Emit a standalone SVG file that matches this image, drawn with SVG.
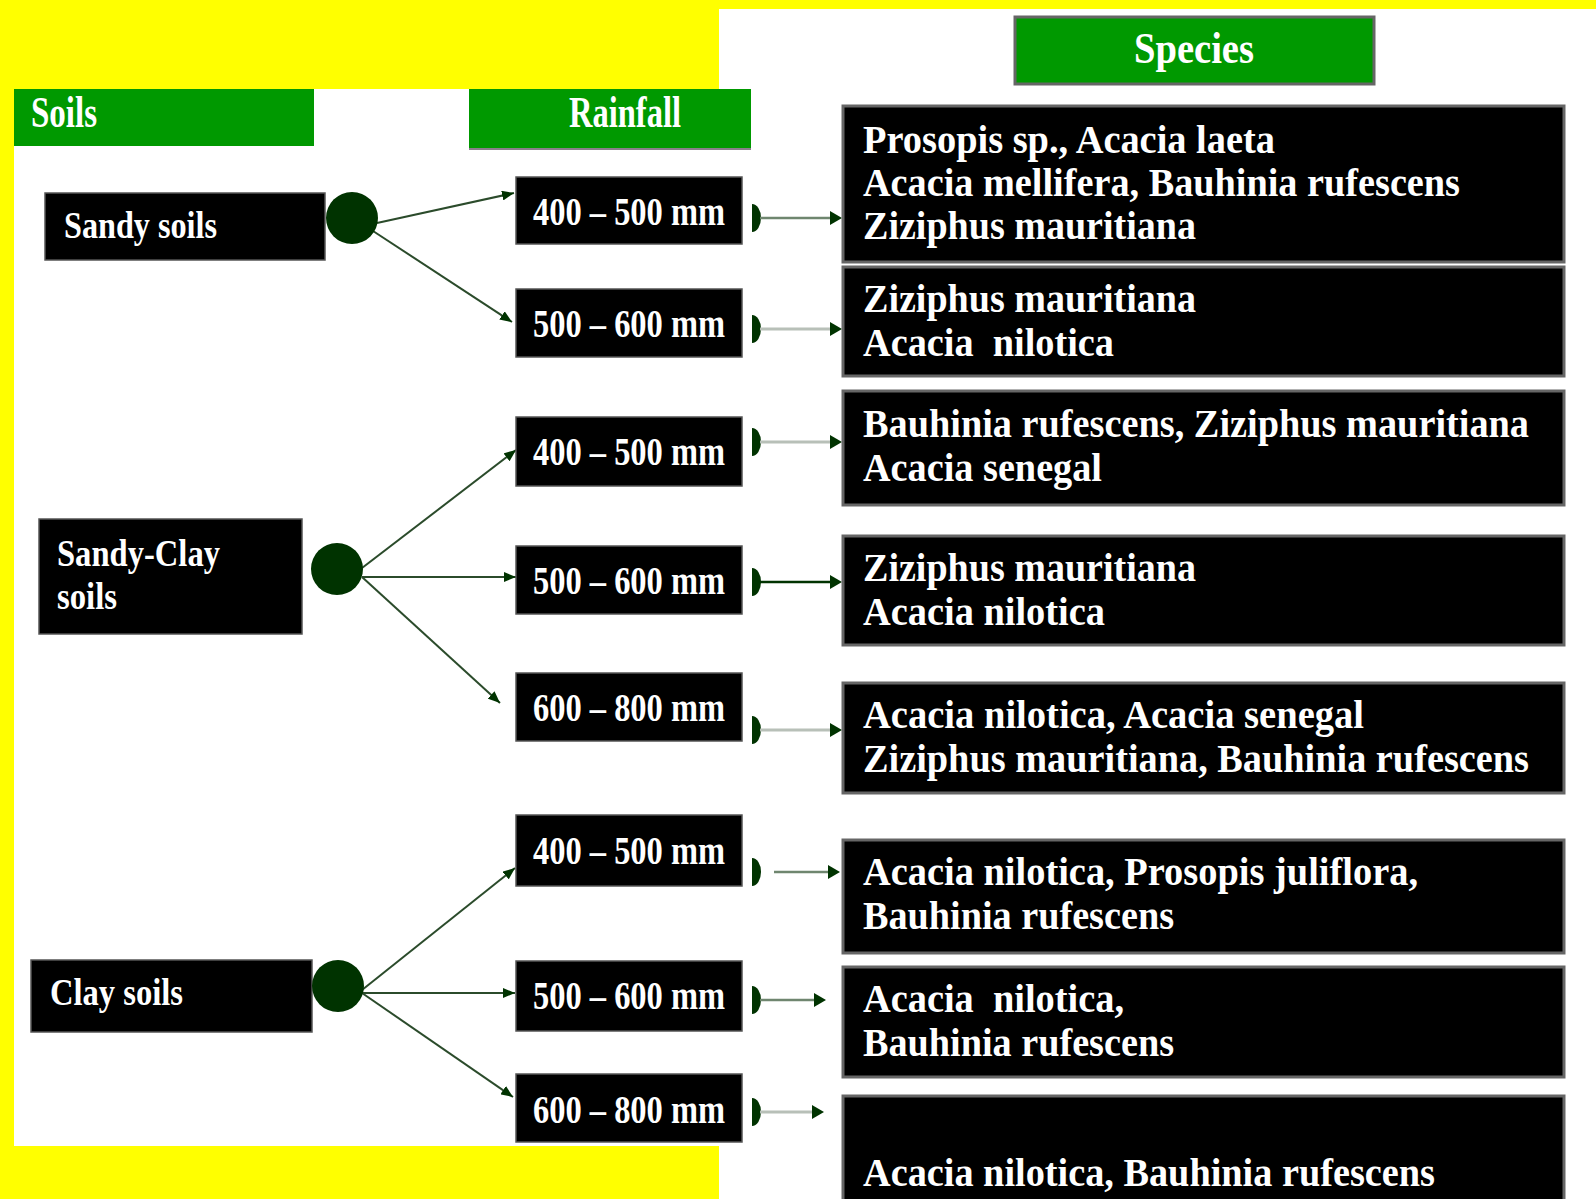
<svg xmlns="http://www.w3.org/2000/svg" xmlns:xlink="http://www.w3.org/1999/xlink" width="1596" height="1199" viewBox="0 0 1596 1199">
<style>
.hdr{fill:#009900}
.hdrt{fill:#ffffff;font-family:"Liberation Serif","Times New Roman",serif;font-weight:bold;font-size:44px}
.box{fill:#000000;stroke:#555555;stroke-width:1.5}
.sbox{fill:#000000;stroke:#666666;stroke-width:3}
.lbl{fill:#ffffff;font-family:"Liberation Serif","Times New Roman",serif;font-weight:bold;font-size:38px}
.rain{fill:#ffffff;font-family:"Liberation Serif","Times New Roman",serif;font-weight:bold;font-size:41px}
.sp{fill:#ffffff;font-family:"Liberation Serif","Times New Roman",serif;font-weight:bold;font-size:40px}
.dot{fill:#003300}
.lc{stroke:#2b4b2b;stroke-width:2;fill:none}
.rm{stroke:#6f866f;stroke-width:2.5;fill:none}
.rl{stroke:#b8c0b8;stroke-width:3;fill:none}
.rd{stroke:#003300;stroke-width:2.5;fill:none}
.cap{fill:#003300}
.ah{fill:#003300}
</style>
<defs>
<marker id="arr" markerUnits="userSpaceOnUse" markerWidth="12" markerHeight="10" refX="12" refY="5" orient="auto">
<path d="M0,0 L12,5 L0,10 Z" fill="#003300"/>
</marker>
<path id="capshape" d="M0,-14 A9,14 0 0 1 0,14 Z"/>
<path id="ahead" d="M-12,-7 L0,0 L-12,7 Z"/>
</defs>

<rect x="0" y="0" width="1596" height="1199" fill="#ffff00"/>
<rect x="14" y="89" width="705" height="1057" fill="#ffffff"/>
<rect x="719" y="9" width="877" height="1190" fill="#ffffff"/>

<g id="soils-header">
<rect class="hdr" x="14" y="89" width="300" height="57"/>
<text class="hdrt" x="31" y="127" textLength="66" lengthAdjust="spacingAndGlyphs">Soils</text>
</g>
<g id="rainfall-header">
<rect class="hdr" x="469" y="89" width="282" height="59"/>
<line x1="469" y1="149" x2="751" y2="149" stroke="#8a7f8a" stroke-width="2"/>
<text class="hdrt" x="569" y="127" textLength="112" lengthAdjust="spacingAndGlyphs">Rainfall</text>
</g>
<g id="species-header">
<rect class="hdr" x="1015" y="17" width="359" height="67" stroke="#666666" stroke-width="3"/>
<text class="hdrt" x="1134" y="63" textLength="120" lengthAdjust="spacingAndGlyphs">Species</text>
</g>

<g id="connectors">
<line class="lc" x1="377" y1="223" x2="514" y2="193" marker-end="url(#arr)"/>
<line class="lc" x1="373" y1="231" x2="512" y2="322" marker-end="url(#arr)"/>
<line class="lc" x1="362" y1="568" x2="516" y2="450" marker-end="url(#arr)"/>
<line class="lc" x1="362" y1="577" x2="516" y2="577" marker-end="url(#arr)"/>
<line class="lc" x1="362" y1="577" x2="500" y2="703" marker-end="url(#arr)"/>
<line class="lc" x1="362" y1="990" x2="515" y2="868" marker-end="url(#arr)"/>
<line class="lc" x1="362" y1="993" x2="515" y2="993" marker-end="url(#arr)"/>
<line class="lc" x1="362" y1="993" x2="513" y2="1097" marker-end="url(#arr)"/>

<use href="#capshape" xlink:href="#capshape" class="cap" x="752" y="218"/>
<line class="rm" x1="760" y1="218" x2="832" y2="218"/>
<use href="#ahead" xlink:href="#ahead" class="ah" x="842" y="218"/>

<use href="#capshape" xlink:href="#capshape" class="cap" x="752" y="329"/>
<line class="rl" x1="760" y1="329" x2="832" y2="329"/>
<use href="#ahead" xlink:href="#ahead" class="ah" x="842" y="329"/>

<use href="#capshape" xlink:href="#capshape" class="cap" x="752" y="442"/>
<line class="rl" x1="760" y1="442" x2="832" y2="442"/>
<use href="#ahead" xlink:href="#ahead" class="ah" x="842" y="442"/>

<use href="#capshape" xlink:href="#capshape" class="cap" x="752" y="582"/>
<line class="rd" x1="760" y1="582" x2="832" y2="582"/>
<use href="#ahead" xlink:href="#ahead" class="ah" x="842" y="582"/>

<use href="#capshape" xlink:href="#capshape" class="cap" x="752" y="730"/>
<line class="rl" x1="760" y1="730" x2="832" y2="730"/>
<use href="#ahead" xlink:href="#ahead" class="ah" x="842" y="730"/>

<use href="#capshape" xlink:href="#capshape" class="cap" x="752" y="872"/>
<line class="rm" x1="774" y1="872" x2="830" y2="872"/>
<use href="#ahead" xlink:href="#ahead" class="ah" x="840" y="872"/>

<use href="#capshape" xlink:href="#capshape" class="cap" x="752" y="1000"/>
<line class="rm" x1="760" y1="1000" x2="816" y2="1000"/>
<use href="#ahead" xlink:href="#ahead" class="ah" x="826" y="1000"/>

<use href="#capshape" xlink:href="#capshape" class="cap" x="752" y="1112"/>
<line class="rl" x1="760" y1="1112" x2="814" y2="1112"/>
<use href="#ahead" xlink:href="#ahead" class="ah" x="824" y="1112"/>
</g>

<g id="sandy-soils">
<rect class="box" x="45" y="193" width="280" height="67"/>
<text class="lbl" x="64" y="238" textLength="153" lengthAdjust="spacingAndGlyphs">Sandy soils</text>
<circle class="dot" cx="352" cy="218" r="26"/>
</g>
<g id="sandy-clay-soils">
<rect class="box" x="39" y="519" width="263" height="115"/>
<text class="lbl" x="57" y="566" textLength="163" lengthAdjust="spacingAndGlyphs">Sandy-Clay</text>
<text class="lbl" x="57" y="609" textLength="60" lengthAdjust="spacingAndGlyphs">soils</text>
<circle class="dot" cx="337" cy="569" r="26"/>
</g>
<g id="clay-soils">
<rect class="box" x="31" y="960" width="281" height="72"/>
<text class="lbl" x="50" y="1005" textLength="133" lengthAdjust="spacingAndGlyphs">Clay soils</text>
<circle class="dot" cx="338" cy="986" r="26"/>
</g>

<g id="rain-1"><rect class="box" x="516" y="177" width="226" height="67"/><text class="rain" x="533" y="225" textLength="192" lengthAdjust="spacingAndGlyphs">400 – 500 mm</text></g>
<g id="rain-2"><rect class="box" x="516" y="289" width="226" height="68"/><text class="rain" x="533" y="337" textLength="192" lengthAdjust="spacingAndGlyphs">500 – 600 mm</text></g>
<g id="rain-3"><rect class="box" x="516" y="417" width="226" height="69"/><text class="rain" x="533" y="465" textLength="192" lengthAdjust="spacingAndGlyphs">400 – 500 mm</text></g>
<g id="rain-4"><rect class="box" x="516" y="546" width="226" height="68"/><text class="rain" x="533" y="594" textLength="192" lengthAdjust="spacingAndGlyphs">500 – 600 mm</text></g>
<g id="rain-5"><rect class="box" x="516" y="673" width="226" height="68"/><text class="rain" x="533" y="721" textLength="192" lengthAdjust="spacingAndGlyphs">600 – 800 mm</text></g>
<g id="rain-6"><rect class="box" x="516" y="815" width="226" height="71"/><text class="rain" x="533" y="864" textLength="192" lengthAdjust="spacingAndGlyphs">400 – 500 mm</text></g>
<g id="rain-7"><rect class="box" x="516" y="961" width="226" height="70"/><text class="rain" x="533" y="1009" textLength="192" lengthAdjust="spacingAndGlyphs">500 – 600 mm</text></g>
<g id="rain-8"><rect class="box" x="516" y="1074" width="226" height="68"/><text class="rain" x="533" y="1123" textLength="192" lengthAdjust="spacingAndGlyphs">600 – 800 mm</text></g>

<g id="species-1">
<rect class="sbox" x="843" y="106" width="721" height="156"/>
<text class="sp" x="863" y="153" textLength="412" lengthAdjust="spacingAndGlyphs">Prosopis sp., Acacia laeta</text>
<text class="sp" x="863" y="196" textLength="597" lengthAdjust="spacingAndGlyphs">Acacia mellifera, Bauhinia rufescens</text>
<text class="sp" x="863" y="239" textLength="333" lengthAdjust="spacingAndGlyphs">Ziziphus mauritiana</text>
</g>
<g id="species-2">
<rect class="sbox" x="843" y="267" width="721" height="109"/>
<text class="sp" x="863" y="312" textLength="333" lengthAdjust="spacingAndGlyphs">Ziziphus mauritiana</text>
<text class="sp" x="863" y="356" textLength="251" lengthAdjust="spacingAndGlyphs" xml:space="preserve">Acacia  nilotica</text>
</g>
<g id="species-3">
<rect class="sbox" x="843" y="391" width="721" height="114"/>
<text class="sp" x="863" y="437" textLength="666" lengthAdjust="spacingAndGlyphs">Bauhinia rufescens, Ziziphus mauritiana</text>
<text class="sp" x="863" y="481" textLength="239" lengthAdjust="spacingAndGlyphs">Acacia senegal</text>
</g>
<g id="species-4">
<rect class="sbox" x="843" y="536" width="721" height="109"/>
<text class="sp" x="863" y="581" textLength="333" lengthAdjust="spacingAndGlyphs">Ziziphus mauritiana</text>
<text class="sp" x="863" y="625" textLength="242" lengthAdjust="spacingAndGlyphs">Acacia nilotica</text>
</g>
<g id="species-5">
<rect class="sbox" x="843" y="683" width="721" height="110"/>
<text class="sp" x="863" y="728" textLength="501" lengthAdjust="spacingAndGlyphs">Acacia nilotica, Acacia senegal</text>
<text class="sp" x="863" y="772" textLength="666" lengthAdjust="spacingAndGlyphs">Ziziphus mauritiana, Bauhinia rufescens</text>
</g>
<g id="species-6">
<rect class="sbox" x="843" y="840" width="721" height="113"/>
<text class="sp" x="863" y="885" textLength="555" lengthAdjust="spacingAndGlyphs">Acacia nilotica, Prosopis juliflora,</text>
<text class="sp" x="863" y="929" textLength="311" lengthAdjust="spacingAndGlyphs">Bauhinia rufescens</text>
</g>
<g id="species-7">
<rect class="sbox" x="843" y="967" width="721" height="110"/>
<text class="sp" x="863" y="1012" textLength="261" lengthAdjust="spacingAndGlyphs" xml:space="preserve">Acacia  nilotica,</text>
<text class="sp" x="863" y="1056" textLength="311" lengthAdjust="spacingAndGlyphs">Bauhinia rufescens</text>
</g>
<g id="species-8">
<rect class="sbox" x="843" y="1096" width="721" height="120"/>
<text class="sp" x="863" y="1186" textLength="572" lengthAdjust="spacingAndGlyphs">Acacia nilotica, Bauhinia rufescens</text>
</g>
</svg>
